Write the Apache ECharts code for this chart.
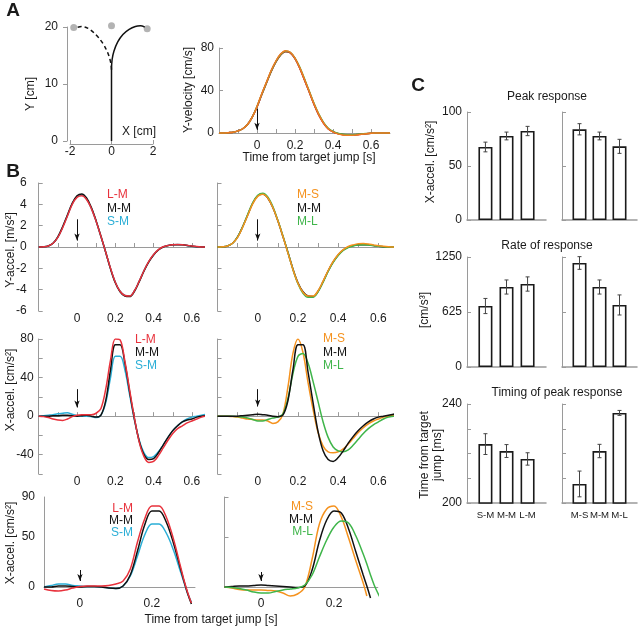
<!DOCTYPE html>
<html><head><meta charset="utf-8">
<script src="https://cdn.jsdelivr.net/npm/echarts@6/dist/echarts.min.js"></script>
<style>html,body{margin:0;padding:0;background:#fff}#c{width:640px;height:629px}</style>
</head><body><div id="c"></div>
<script>
// ---------- DATA ----------
// Panel A left: trajectories (cm)
const trajSolidX = [0, 0, 0, 0.03, 0.12, 0.3, 0.55, 0.85, 1.15, 1.4, 1.6];
const trajSolidY = [0, 6, 12.5, 14.3, 15.8, 17.4, 18.7, 19.6, 20.1, 20.2, 20.0];
const trajDashX = [0, -0.03, -0.12, -0.3, -0.55, -0.85, -1.15, -1.45, -1.7];
const trajDashY = [12.5, 13.6, 14.9, 16.4, 17.8, 19.0, 19.8, 20.1, 19.9];
const targetX = [-1.82, 0, 1.72];
const targetY = [19.9, 20.2, 19.7];

// Time base (s) for Y-velocity, Y-accel and X-accel (full window)
const tB = [-0.2,-0.175,-0.15,-0.125,-0.1,-0.075,-0.05,-0.025,0,0.025,0.05,0.075,0.1,0.125,0.15,0.175,0.2,0.225,0.25,0.275,0.3,0.325,0.35,0.375,0.4,0.425,0.45,0.475,0.5,0.525,0.55,0.575,0.6,0.625,0.65,0.675,0.7];

// Y-velocity (cm/s)
const velDark   = [0,0,0.3,0.8,2,4,8,15,24.5,36,47,58,67,73.5,76.5,75.5,70,61,50,38.5,27,17,9.5,4,1.2,-0.5,-1.4,-1.8,-1.8,-1.5,-1,-0.6,-0.3,-0.1,0,0,0];
const velRed    = [0,0,0.3,0.8,2,4,8,15,24.5,36.5,47.5,58.5,67.5,74,77,75.5,70,61,50,38.5,27,17,9,3.8,1,-0.6,-1.5,-2,-2,-1.7,-1.1,-0.6,-0.3,-0.1,0,0,0];
const velGreen  = [0,0,0.3,0.8,2,4,8,15,25,36.5,47.5,58.5,67.5,74,77,76,70.5,62,51,39.5,28,18,10,4.5,1.5,-0.3,-1.2,-1.6,-1.6,-1.3,-0.9,-0.5,-0.2,0,0,0,0];
const velOrange = [0,0,0.3,0.8,2,4,8,15,25,37,48,59,68,74.5,77.5,76,70.5,61.5,50.5,39,27.5,17.5,9.5,4,1,-0.8,-1.8,-2.2,-2.2,-1.8,-1.2,-0.7,-0.3,-0.1,0,0,0];

// Y-accel (m/s^2)
const yaLM = [0,0.02,0.1,0.35,0.9,1.8,2.9,4.0,4.65,4.8,4.45,3.6,2.4,1.0,-0.5,-2.0,-3.3,-4.15,-4.55,-4.6,-4.1,-3.2,-2.2,-1.35,-0.7,-0.25,0.02,0.15,0.22,0.24,0.22,0.16,0.09,0.04,0.01,0,0];
const yaMM = [0,0.02,0.1,0.35,0.95,1.9,3.0,4.1,4.8,4.98,4.6,3.7,2.45,1.0,-0.5,-2.05,-3.35,-4.2,-4.6,-4.65,-4.15,-3.25,-2.25,-1.4,-0.75,-0.28,0,0.13,0.2,0.22,0.2,0.15,0.08,0.03,0.01,0,0];
const yaSM = [0,0.02,0.1,0.35,0.92,1.85,2.95,4.05,4.72,4.88,4.5,3.62,2.4,0.98,-0.52,-2.02,-3.3,-4.15,-4.55,-4.6,-4.1,-3.2,-2.2,-1.37,-0.72,-0.26,0.01,0.14,0.21,0.23,0.21,0.15,0.08,0.03,0.01,0,0];
const yaMS = [0,0.02,0.1,0.35,0.9,1.85,2.95,4.05,4.75,4.95,4.6,3.7,2.45,1.0,-0.55,-2.1,-3.4,-4.25,-4.6,-4.6,-4.1,-3.2,-2.2,-1.35,-0.7,-0.25,0.05,0.2,0.3,0.32,0.28,0.2,0.12,0.06,0.02,0,0];
const yaML = [0,0.02,0.1,0.35,0.95,1.9,3.05,4.15,4.85,5.05,4.7,3.8,2.5,1.05,-0.5,-2.1,-3.45,-4.35,-4.72,-4.7,-4.2,-3.3,-2.3,-1.45,-0.8,-0.32,-0.05,0.1,0.18,0.2,0.18,0.13,0.07,0.03,0.01,0,0];

// X-accel (cm/s^2), full window
const xaLM  = [0,-0.5,-1.5,-3,-4,-4.5,-3,-0.5,1,1.5,1.5,1.5,3,8,28,58,80,79,57,27,-2,-27,-42,-48,-47,-41,-33,-25,-18,-13,-10,-7,-5,-3,-1,0,0];
const xaMM  = [0,0,0,0.5,0.5,1,1,0.5,0,0.5,1,0,-1,1,16,48,74,74,55,25,-3,-26,-40,-45,-44,-38,-30,-22,-15,-10,-6,-4,-3,-1,0,0.5,1];
const xaSM  = [0,0.5,1,1.5,2.5,3,3.5,2,0.5,0,0,-0.5,-1.5,1,14,40,62,62,48,22,-4,-25,-38,-43,-42,-37,-30,-22,-15,-10,-6,-3,-1,0,1,2,3];
const xaMS  = [0,0,0,-0.5,-1,-2,-3,-3.5,-4,-4,-5,-7.5,-6,2,30,65,80,66,35,7,-17,-31,-37,-38,-37,-34,-29,-23,-17,-12,-8,-5,-3,-1,0,1,1];
const xaMM2 = [0,0,0,0,0,0.5,1,1.5,2,1.5,1,0,-0.5,1,16,48,74,74,46,14,-16,-36,-45,-47,-43,-36,-28,-21,-15,-10,-6,-3,-1,0,1,2,3];
const xaML  = [0,0,0,0,-0.5,-1,-2,-3.5,-5,-5,-3.5,-2,-1,2,18,44,62,65,55,36,15,-6,-22,-32,-36,-37,-35,-30,-24,-18,-13,-9,-6,-3,-1,0,0];

// X-accel zoomed window (cm/s^2)
const tZ = [-0.1,-0.08,-0.06,-0.04,-0.02,0,0.02,0.04,0.06,0.08,0.1,0.12,0.14,0.16,0.18,0.2,0.22,0.24,0.26,0.28,0.29,0.3,0.31,0.32,0.33];
const zLM  = [-2,-3.5,-4,-3,-1,0.5,1,1,1,1.5,3,6,18,45,68,81,81,70,48,20,6,-6,-16,null,null];
const zMM  = [0,0,1,1,0.5,0,0.5,0.5,0,-1,-1.5,1,12,36,62,76,76,65,44,18,5,-7,-17,null,null];
const zSM  = [0,1.5,3,3,1.5,1,0.5,0.5,0,-1,-1.5,1,11,31,52,63,63,54,37,15,4,-7,-15,null,null];
const zMS  = [0,-1,-2.5,-3,-3,-3,-3.5,-4,-6,-9,-7,0,28,63,78,81,70,49,26,4,-9,null,null,null,null];
const zMM2 = [0,0.5,1,1,1.5,2,1.5,1,0.5,0,-0.5,1,17,46,67,76,74,58,35,12,1,-11,null,null,null];
const zML  = [0,-0.5,-1.5,-3,-5,-6,-6,-4.5,-3,-2,-1,2,12,30,47,60,66,64,51,33,23,12,2,-6,-13];

// Panel C bar data
const catLeft = ['S-M', 'M-M', 'L-M'];
const catRight = ['M-S', 'M-M', 'M-L'];
const peakLeft = [67.6, 77.8, 82.4],   peakLeftErr = [4.5, 3.6, 4.3];
const peakRight = [84, 77.8, 68.2],    peakRightErr = [5.2, 3.6, 6.5];
const rateLeft = [693, 909, 943],      rateLeftErr = [86, 80, 81];
const rateRight = [1182, 909, 705],    rateRightErr = [72, 80, 114];
const timeLeft = [223.8, 221, 217.8],  timeLeftErr = [4.2, 2.6, 2.5];
const timeRight = [207.7, 221, 236.4], timeRightErr = [5.2, 2.7, 1.0];

// ---------- STYLE ----------
const F = '"Liberation Sans", Arial, Helvetica, sans-serif';
const AX = '#9a9a9a', TXT = '#1a1a1a';
const C_RED = '#e8323c', C_BLK = '#111111', C_CYAN = '#2aaed6', C_ORG = '#f5921e', C_GRN = '#3fb54a';

const grids = [
  {left:70, top:27, width:83, height:114},      // 0 A traj
  {left:219, top:48, width:171, height:85},     // 1 A vel
  {left:38.7, top:183, width:164.7, height:128},// 2 B Yacc L
  {left:217.5, top:183, width:175, height:128}, // 3 B Yacc R
  {left:38.7, top:339, width:164.7, height:135},// 4 B Xacc L
  {left:217.5, top:339, width:175, height:135}, // 5 B Xacc R
  {left:44, top:497, width:151, height:90},     // 6 B zoom L
  {left:224.5, top:497, width:153.3, height:90},// 7 B zoom R
  {left:467, top:112, width:79, height:108},    // 8 C peak L
  {left:562, top:112, width:75, height:108},    // 9 C peak R
  {left:467, top:257, width:79, height:110},    // 10 C rate L
  {left:562, top:257, width:75, height:110},    // 11 C rate R
  {left:467, top:404, width:79, height:99},     // 12 C time L
  {left:562, top:404, width:75, height:99}      // 13 C time R
];

const lab = (extra) => Object.assign({fontSize:12, color:TXT, fontFamily:F, hideOverlap:false}, extra);
const tBticks = [-0.1,0,0.1,0.2,0.3,0.4,0.5,0.6];
function tAxis(gi, min, max, margin) {
  return {type:'value', gridIndex:gi, min:min, max:max,
    axisLine:{onZero:true, lineStyle:{color:AX, width:1}},
    axisTick:{inside:true, length:4, customValues:tBticks, lineStyle:{color:AX}},
    axisLabel:lab({customValues:[0,0.2,0.4,0.6], margin:margin}),
    splitLine:{show:false}};
}
function vAxis(gi, min, max, interval, showLab, margin, extra) {
  return Object.assign({type:'value', gridIndex:gi, min:min, max:max, interval:interval,
    axisLine:{show:true, onZero:false, lineStyle:{color:AX}},
    axisTick:{inside:true, length:4, lineStyle:{color:AX}},
    axisLabel:lab({show:showLab, margin:margin, formatter:(v)=>String(v)}),
    splitLine:{show:false}}, extra || {});
}
function catAxis(gi, cats, showLab) {
  return {type:'value', gridIndex:gi, min:0.125, max:3.875,
    axisLine:{onZero:false, lineStyle:{color:AX, width:1.5}},
    axisTick:{show:false},
    axisLabel:lab({show:showLab, fontSize:9.6, customValues:[1,2,3], margin:7,
      formatter:(v)=>cats[Math.round(v)-1]}),
    splitLine:{show:false}};
}

const xAxes = [
  {type:'value', gridIndex:0, min:-2, max:2, interval:2, offset:3,
   axisLine:{onZero:false, lineStyle:{color:AX}}, axisTick:{length:4, inside:true, lineStyle:{color:AX}},
   axisLabel:lab({margin:2}), splitLine:{show:false}},
  {type:'value', gridIndex:1, min:-0.2, max:0.7,
   axisLine:{onZero:false, lineStyle:{color:AX}},
   axisTick:{inside:true, length:4, customValues:tBticks, lineStyle:{color:AX}},
   axisLabel:lab({customValues:[0,0.2,0.4,0.6], margin:7}), splitLine:{show:false}},
  tAxis(2, -0.2, 0.66, 2), tAxis(3, -0.2, 0.67, 2),
  tAxis(4, -0.2, 0.66, 2), tAxis(5, -0.2, 0.67, 2),
  {type:'value', gridIndex:6, min:-0.1, max:0.32, axisLine:{onZero:false, lineStyle:{color:AX}},
   axisTick:{show:false}, axisLabel:lab({customValues:[0,0.2], margin:11}), splitLine:{show:false}},
  {type:'value', gridIndex:7, min:-0.1, max:0.32, axisLine:{onZero:false, lineStyle:{color:AX}},
   axisTick:{show:false}, axisLabel:lab({customValues:[0,0.2], margin:11}), splitLine:{show:false}},
  catAxis(8, catLeft, false), catAxis(9, catRight, false),
  catAxis(10, catLeft, false), catAxis(11, catRight, false),
  catAxis(12, catLeft, true), catAxis(13, catRight, true)
];

const yAxes = [
  vAxis(0, 0, 20, 10, true, 9, {offset:3, axisTick:{inside:false, length:4, lineStyle:{color:AX}}}),
  vAxis(1, 0, 80, 40, true, 5),
  vAxis(2, -6, 6, 2, true, 12), vAxis(3, -6, 6, 2, false, 12),
  vAxis(4, -60, 80, 20, true, 5, {axisLabel:lab({customValues:[-40,0,40,80], margin:5})}),
  vAxis(5, -60, 80, 20, false, 5),
  vAxis(6, 0, 90, 10, true, 9, {axisLabel:lab({customValues:[0,50,90], margin:9}), axisTick:{show:false}}),
  vAxis(7, 0, 90, 10, false, 9, {axisTick:{inside:true, length:4, customValues:[0,50,90], lineStyle:{color:AX}}}),
  vAxis(8, 0, 100, 50, true, 5), vAxis(9, 0, 100, 50, false, 5),
  vAxis(10, 0, 1250, 625, true, 5), vAxis(11, 0, 1250, 625, false, 5),
  vAxis(12, 200, 240, 10, true, 5, {axisLabel:lab({customValues:[200,240], margin:5})}),
  vAxis(13, 200, 240, 10, false, 5)
];

function pairs(xs, ys) { return xs.map((x, i) => [x, ys[i]]); }
function line(gi, xs, ys, color, extra) {
  return Object.assign({type:'line', xAxisIndex:gi, yAxisIndex:gi, data:pairs(xs, ys),
    smooth:0.35, showSymbol:false, symbol:'none', animation:false, silent:true,
    lineStyle:{color:color, width:1.5}, itemStyle:{color:color}}, extra || {});
}
function arrow(y0, y1) {
  return {markLine:{silent:true, animation:false, symbol:['none','arrow'], symbolSize:[4,7],
    label:{show:false}, lineStyle:{color:'#111', width:1, type:'solid'},
    data:[[{coord:[0, y0]}, {coord:[0, y1]}]]}};
}
function bars(gi, vals) {
  return {type:'bar', xAxisIndex:gi, yAxisIndex:gi, data:vals.map((v,i)=>[i+1, v]), barWidth:14,
    animation:false, silent:true, itemStyle:{color:'#fff', borderColor:'#1a1a1a', borderWidth:1.6}};
}
function errs(gi, vals, e) {
  return {type:'custom', xAxisIndex:gi, yAxisIndex:gi, animation:false, silent:true, z:5,
    data:vals.map((v,i)=>[i+1, v, e[i]]),
    renderItem:function(params, api) {
      const x = api.value(0), v = api.value(1), d = api.value(2);
      const a = api.coord([x, v + d]), b = api.coord([x, v - d]);
      const st = {stroke:'#444', lineWidth:1};
      return {type:'group', children:[
        {type:'line', shape:{x1:a[0], y1:a[1], x2:b[0], y2:b[1]}, style:st},
        {type:'line', shape:{x1:a[0]-2, y1:a[1], x2:a[0]+2, y2:a[1]}, style:st},
        {type:'line', shape:{x1:b[0]-2, y1:b[1], x2:b[0]+2, y2:b[1]}, style:st}
      ]};
    }};
}

const series = [
  // A traj
  line(0, trajSolidX, trajSolidY, '#111', {clip:false, smooth:0.3, lineStyle:{color:'#111', width:1.5}}),
  line(0, trajDashX, trajDashY, '#111', {clip:false, smooth:0.3, lineStyle:{color:'#111', width:1.5, type:[4,3]}}),
  {type:'scatter', xAxisIndex:0, yAxisIndex:0, data:pairs(targetX, targetY), symbolSize:7, clip:false,
   itemStyle:{color:'#a0a0a0'}, animation:false, silent:true},
  // A velocity
  line(1, tB, velDark, '#8c1c1c', Object.assign({clip:false}, arrow(23, 3))),
  line(1, tB, velRed, '#e0262b', {clip:false}),
  line(1, tB, velGreen, '#4cb848', {clip:false}),
  line(1, tB, velOrange, '#f27a22', {clip:false}),
  // B Y-accel
  line(2, tB, yaSM, C_CYAN, arrow(2.6, 0.6)),
  line(2, tB, yaMM, C_BLK),
  line(2, tB, yaLM, C_RED),
  line(3, tB, yaMM, C_BLK, arrow(2.6, 0.6)),
  line(3, tB, yaML, C_GRN),
  line(3, tB, yaMS, C_ORG),
  // B X-accel
  line(4, tB, xaSM, C_CYAN, arrow(28, 9)),
  line(4, tB, xaMM, C_BLK),
  line(4, tB, xaLM, C_RED),
  line(5, tB, xaMS, C_ORG, arrow(28, 10)),
  line(5, tB, xaML, C_GRN),
  line(5, tB, xaMM2, C_BLK),
  // B zoom
  line(6, tZ, zSM, C_CYAN, Object.assign({clip:false}, arrow(17, 6))),
  line(6, tZ, zMM, C_BLK, {clip:false}),
  line(6, tZ, zLM, C_RED, {clip:false}),
  line(7, tZ, zMS, C_ORG, Object.assign({clip:false}, arrow(15, 6))),
  line(7, tZ, zMM2, C_BLK, {clip:false}),
  line(7, tZ, zML, C_GRN, {clip:false}),
  // C
  bars(8, peakLeft), errs(8, peakLeft, peakLeftErr),
  bars(9, peakRight), errs(9, peakRight, peakRightErr),
  bars(10, rateLeft), errs(10, rateLeft, rateLeftErr),
  bars(11, rateRight), errs(11, rateRight, rateRightErr),
  bars(12, timeLeft), errs(12, timeLeft, timeLeftErr),
  bars(13, timeRight), errs(13, timeRight, timeRightErr)
];

function txt(text, x, y, o) {
  o = o || {};
  return {type:'text', x:x, y:y, rotation:o.rot || 0, z:100, silent:true,
    style:{text:text, fill:o.color || TXT, font:(o.weight || 'normal') + ' ' + (o.size || 12) + 'px ' + F,
      textAlign:o.align || 'center', textVerticalAlign:'middle', align:o.align || 'center', verticalAlign:'middle',
      lineHeight:o.lh || 14}};
}
const R = Math.PI / 2;
const graphic = [
  txt('A', 13, 11, {weight:'bold', size:19}),
  txt('B', 13, 172, {weight:'bold', size:19}),
  txt('C', 418, 86, {weight:'bold', size:19}),
  txt('Y [cm]', 31, 94, {rot:R}),
  txt('X [cm]', 139, 132),
  txt('Y-velocity [cm/s]', 189, 90, {rot:R}),
  txt('Time from target jump [s]', 309, 158),
  txt('Y-accel. [m/s²]', 11, 250, {rot:R}),
  txt('X-accel. [cm/s²]', 11, 390, {rot:R}),
  txt('X-accel. [cm/s²]', 11, 543, {rot:R}),
  txt('Time from target jump [s]', 211, 620),
  // legends
  txt('L-M', 107, 195, {align:'left', color:C_RED}),
  txt('M-M', 107, 209, {align:'left', color:C_BLK}),
  txt('S-M', 107, 222, {align:'left', color:C_CYAN}),
  txt('M-S', 297, 195, {align:'left', color:C_ORG}),
  txt('M-M', 297, 209, {align:'left', color:C_BLK}),
  txt('M-L', 297, 222, {align:'left', color:C_GRN}),
  txt('L-M', 135, 340, {align:'left', color:C_RED}),
  txt('M-M', 135, 353, {align:'left', color:C_BLK}),
  txt('S-M', 135, 366, {align:'left', color:C_CYAN}),
  txt('M-S', 323, 339, {align:'left', color:C_ORG}),
  txt('M-M', 323, 353, {align:'left', color:C_BLK}),
  txt('M-L', 323, 366, {align:'left', color:C_GRN}),
  txt('L-M', 133, 509, {align:'right', color:C_RED}),
  txt('M-M', 133, 521, {align:'right', color:C_BLK}),
  txt('S-M', 133, 533, {align:'right', color:C_CYAN}),
  txt('M-S', 313, 507, {align:'right', color:C_ORG}),
  txt('M-M', 313, 520, {align:'right', color:C_BLK}),
  txt('M-L', 313, 532, {align:'right', color:C_GRN}),
  // C
  txt('Peak response', 547, 97),
  txt('Rate of response', 547, 246),
  txt('Timing of peak response', 557, 393),
  txt('X-accel. [cm/s²]', 431, 162, {rot:R}),
  txt('[cm/s³]', 425, 310, {rot:R}),
  txt('Time from target\njump [ms]', 431, 455, {rot:R, lh:13})
];

const chart = echarts.init(document.getElementById('c'), null, {renderer:'canvas'});
chart.setOption({
  animation:false, backgroundColor:'#fff',
  textStyle:{fontFamily:F},
  grid:grids, xAxis:xAxes, yAxis:yAxes, series:series, graphic:graphic
});
</script></body></html>
